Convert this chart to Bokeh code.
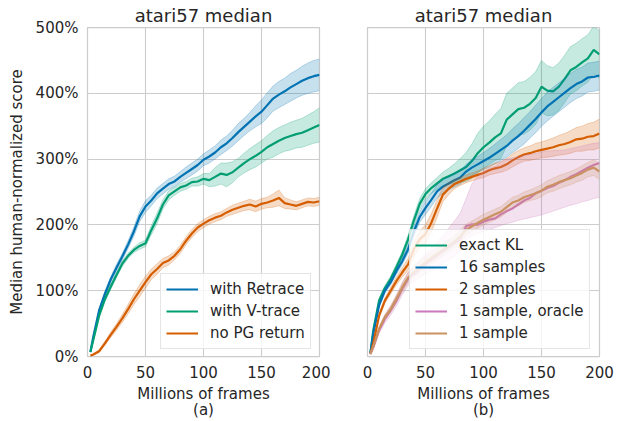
from bokeh.plotting import figure
from bokeh.layouts import row
from bokeh.models import Range1d, FixedTicker, Legend, LegendItem
from bokeh.embed import file_html
from bokeh.resources import INLINE

# ---------------- data ----------------
frames = [2.5, 5, 10, 15, 20, 25, 30, 35, 40, 45, 50, 55, 60, 65, 70, 75, 80, 85, 90, 95,
          100, 105, 110, 115, 120, 125, 130, 135, 140, 145, 150, 155, 160, 165, 170, 175,
          180, 185, 190, 195, 200]

x_ticks = [0, 50, 100, 150, 200]
y_ticks = [0, 100, 200, 300, 400, 500]
y_tick_labels = ["0%", "100%", "200%", "300%", "400%", "500%"]

# panel (a)
a_retrace = [7, 30, 70, 95, 117, 135, 152, 170, 190, 213, 228, 237, 248, 255, 262, 266, 273, 279, 285, 291,
             299, 304, 310, 318, 324, 332, 341, 349, 357, 365, 372, 382, 392, 398, 403, 409, 414, 419, 423, 426, 428]
a_retrace_err = [1, 2, 3, 4, 4, 5, 5, 6, 7, 8, 9, 8, 8, 8, 8, 8, 8, 9, 9, 9,
                 9, 10, 10, 11, 11, 12, 13, 13, 14, 16, 18, 19, 19, 20, 20, 21, 21, 22, 23, 24, 24]
a_vtrace = [7, 25, 62, 87, 106, 124, 141, 153, 162, 168, 172, 192, 210, 231, 245, 251, 257, 260, 265, 266,
            270, 268, 273, 278, 276, 280, 287, 294, 300, 305, 311, 318, 323, 328, 332, 335, 338, 340, 344, 348, 352]
a_vtrace_err = [1, 2, 3, 4, 4, 4, 4, 4, 4, 5, 5, 7, 8, 7, 7, 6, 6, 6, 6, 7,
                8, 10, 14, 16, 18, 16, 14, 15, 16, 17, 17, 18, 20, 20, 20, 21, 21, 22, 23, 24, 26]
a_nopg = [1, 3, 8, 20, 33, 45, 58, 72, 87, 100, 113, 125, 133, 142, 146, 153, 163, 176, 187, 196,
          202, 207, 211, 214, 219, 223, 226, 229, 231, 228, 232, 234, 237, 241, 233, 231, 229, 232, 235, 234, 236]
a_nopg_err = [1, 1, 2, 3, 4, 5, 6, 7, 8, 9, 9, 8, 8, 7, 7, 6, 6, 6, 6, 6,
              6, 6, 6, 6, 6, 7, 7, 7, 8, 8, 8, 8, 10, 12, 8, 7, 6, 6, 6, 6, 6]

# panel (b)
b_exact = [5, 40, 85, 104, 118, 136, 155, 178, 207, 232, 247, 256, 263, 270, 274, 278, 283, 288, 297, 309,
           318, 325, 333, 339, 360, 368, 376, 378, 384, 393, 410, 404, 403, 410, 422, 435, 440, 447, 453, 466, 459]
b_exact_err = [1, 2, 3, 4, 4, 5, 5, 6, 7, 8, 8, 8, 9, 10, 12, 15, 18, 22, 26, 30,
               32, 33, 35, 38, 40, 40, 40, 40, 40, 40, 40, 38, 36, 36, 36, 36, 36, 36, 36, 36, 36]
b_16 = [5, 35, 78, 100, 113, 130, 145, 163, 190, 212, 226, 238, 251, 258, 263, 268, 272, 281, 287, 292,
        297, 302, 308, 314, 320, 328, 335, 343, 352, 361, 371, 380, 387, 394, 401, 408, 414, 418, 424, 425, 427]
b_16_err = [1, 2, 3, 4, 4, 5, 5, 6, 7, 8, 10, 10, 10, 10, 10, 10, 10, 11, 12, 12,
            13, 14, 15, 16, 17, 18, 19, 20, 20, 21, 21, 22, 22, 22, 22, 22, 22, 22, 22, 22, 22]
b_2 = [4, 20, 62, 85, 100, 115, 128, 140, 163, 178, 186, 203, 225, 246, 255, 262, 266, 270, 273, 276,
       279, 283, 286, 288, 292, 298, 303, 307, 309, 312, 314, 316, 318, 321, 323, 326, 330, 331, 334, 335, 339]
b_2_err = [1, 2, 3, 4, 5, 6, 7, 9, 11, 13, 14, 14, 13, 11, 9, 7, 6, 6, 6, 6,
           7, 7, 8, 8, 9, 10, 10, 10, 11, 12, 12, 13, 14, 15, 16, 17, 18, 19, 20, 21, 22]
b_oracle = [4, 14, 40, 57, 70, 85, 103, 118, 125, 133, 140, 147, 153, 160, 166, 172, 178, 198, 201, 200,
            205, 208, 210, 216, 221, 225, 231, 237, 241, 248, 252, 256, 259, 264, 268, 273, 277, 282, 287, 291, 294]
b_oracle_lo = [3, 11, 35, 51, 63, 77, 94, 108, 114, 120, 126, 131, 136, 142, 147, 153, 160, 178, 184, 187,
               190, 193, 196, 199, 202, 204, 207, 209, 211, 213, 215, 218, 221, 224, 227, 230, 232, 235, 237, 240, 242]
b_oracle_hi = [5, 17, 45, 63, 77, 93, 112, 128, 137, 147, 156, 165, 174, 184, 195, 206, 218, 240, 262, 274,
               281, 286, 289, 296, 300, 302, 304, 306, 307, 309, 311, 312, 313, 313, 314, 316, 318, 320, 322, 324, 325]
b_1 = [4, 15, 42, 60, 72, 88, 105, 120, 128, 136, 143, 150, 156, 162, 168, 175, 183, 192, 198, 203,
       208, 212, 216, 220, 227, 234, 237, 242, 245, 248, 252, 258, 261, 265, 268, 271, 275, 279, 284, 287, 281]
b_1_err = [1, 2, 3, 4, 5, 6, 7, 8, 8, 9, 9, 9, 9, 9, 9, 9, 9, 9, 8, 8,
           8, 8, 8, 8, 8, 8, 8, 8, 8, 9, 9, 9, 10, 10, 10, 10, 10, 11, 11, 12, 12]

labels_a = ["with Retrace", "with V-trace", "no PG return"]
labels_b = ["exact KL", "16 samples", "2 samples", "1 sample, oracle", "1 sample"]

BLUE = "#0173B2"
GREEN = "#029E73"
ORANGE = "#D55E00"
PINK = "#CC78BC"
TAN = "#CA9161"
TEXT = "#262626"
GRID = "#cccccc"
FONT = "DejaVu Sans"


def make_fig(width, mbl, mbr, sub, show_y):
    p = figure(width=width, height=421, x_range=Range1d(0, 200), y_range=Range1d(0, 500),
               output_backend="svg", toolbar_location=None,
               min_border_left=mbl, min_border_right=mbr, min_border_top=26, min_border_bottom=63,
               title="atari57 median")
    p.background_fill_color = "white"
    p.border_fill_color = "white"
    p.outline_line_color = GRID
    p.outline_line_width = 1.25
    p.title.align = "center"
    p.title.text_font = FONT
    p.title.text_font_size = "18px"
    p.title.text_font_style = "normal"
    p.title.text_color = TEXT
    p.title.standoff = 4

    p.xaxis.ticker = FixedTicker(ticks=x_ticks)
    p.yaxis.ticker = FixedTicker(ticks=y_ticks)
    p.xgrid.ticker = FixedTicker(ticks=x_ticks)
    p.ygrid.ticker = FixedTicker(ticks=y_ticks)
    p.yaxis.major_label_overrides = {t: l for t, l in zip(y_ticks, y_tick_labels)}
    for ax in (p.xaxis, p.yaxis):
        ax.axis_line_color = None
        ax.major_tick_line_color = None
        ax.minor_tick_line_color = None
        ax.major_tick_in = 0
        ax.major_tick_out = 0
        ax.major_label_text_font = FONT
        ax.major_label_text_font_size = "15px"
        ax.major_label_text_color = TEXT
        ax.axis_label_text_font = FONT
        ax.axis_label_text_font_size = "15px"
        ax.axis_label_text_font_style = "normal"
        ax.axis_label_text_color = TEXT
    p.xaxis.major_label_standoff = 9
    p.yaxis.major_label_standoff = 9
    p.xaxis.axis_label = "Millions of frames\n" + sub
    p.xaxis.axis_label_standoff = 4
    p.xaxis.axis_label_text_line_height = 0.9
    if show_y:
        p.yaxis.axis_label = "Median human-normalized score"
        p.yaxis.axis_label_standoff = 7
    else:
        p.yaxis.visible = False
    p.xgrid.grid_line_color = GRID
    p.ygrid.grid_line_color = GRID
    p.xgrid.grid_line_width = 1.1
    p.ygrid.grid_line_width = 1.1
    return p


def series(p, y, lo, hi, color):
    p.varea(x=frames, y1=lo, y2=hi, fill_color=color, fill_alpha=0.22)
    p.line(x=frames, y=lo, line_color=color, line_alpha=0.25, line_width=1)
    p.line(x=frames, y=hi, line_color=color, line_alpha=0.25, line_width=1)
    return p.line(x=frames, y=y, line_color=color, line_width=2.2)


def sym(y, e):
    return [a - b for a, b in zip(y, e)], [a + b for a, b in zip(y, e)]


def style_legend(lg, x, y):
    lg.location = (x, y)
    lg.margin = 0
    lg.padding = 5
    lg.spacing = 2
    lg.glyph_width = 32
    lg.glyph_height = 20
    lg.label_height = 20
    lg.label_standoff = 12
    lg.label_text_font = FONT
    lg.label_text_font_size = "15px"
    lg.label_text_color = TEXT
    lg.border_line_color = GRID
    lg.border_line_width = 1
    lg.background_fill_color = "white"
    lg.background_fill_alpha = 0.8


# panel (a)
p1 = make_fig(330, 87, 11, "(a)", True)
ra = []
for y, e, c in [(a_retrace, a_retrace_err, BLUE), (a_vtrace, a_vtrace_err, GREEN), (a_nopg, a_nopg_err, ORANGE)]:
    lo, hi = sym(y, e)
    ra.append(series(p1, y, lo, hi, c))
leg1 = Legend(items=[LegendItem(label=l, renderers=[r]) for l, r in zip(labels_a, ra)])
style_legend(leg1, 73, 7)
p1.add_layout(leg1, "center")

# panel (b)
p2 = make_fig(292, 37, 23, "(b)", False)
rb = []
lo, hi = sym(b_exact, b_exact_err)
rb.append(series(p2, b_exact, lo, hi, GREEN))
lo, hi = sym(b_16, b_16_err)
rb.append(series(p2, b_16, lo, hi, BLUE))
lo, hi = sym(b_2, b_2_err)
rb.append(series(p2, b_2, lo, hi, ORANGE))
rb.append(series(p2, b_oracle, b_oracle_lo, b_oracle_hi, PINK))
lo, hi = sym(b_1, b_1_err)
rb.append(series(p2, b_1, lo, hi, TAN))
leg2 = Legend(items=[LegendItem(label=l, renderers=[r]) for l, r in zip(labels_b, rb)])
style_legend(leg2, 42, 7)
p2.add_layout(leg2, "center")

layout = row(p1, p2)
open("out.html", "w").write(file_html(layout, INLINE))
